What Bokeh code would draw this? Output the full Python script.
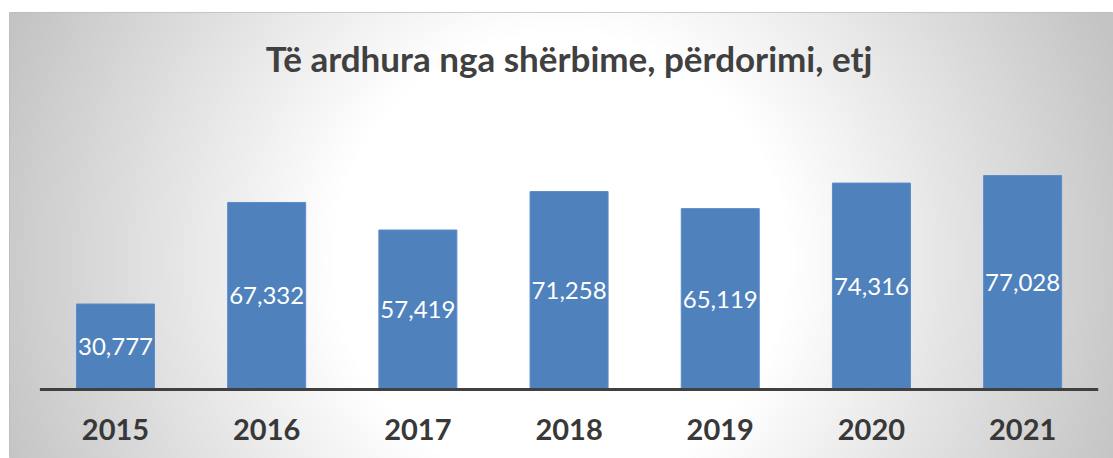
import numpy as np
from bokeh.plotting import figure
from bokeh.models import Range1d, Label, ColumnDataSource
from bokeh.core.properties import value
from bokeh.embed import file_html
from bokeh.resources import INLINE

# ---- data ----
years = ["2015", "2016", "2017", "2018", "2019", "2020", "2021"]
revenues = [30777, 67332, 57419, 71258, 65119, 74316, 77028]
title_text = "Të ardhura nga shërbime, përdorimi, etj"

idx = list(range(len(years)))
labels = ["{:,}".format(v) for v in revenues]

W, H = 1113, 458
x0, x1 = -0.701, 6.601
y0, y1 = -24840, 135720

p = figure(width=W, height=H, output_backend="svg", toolbar_location=None,
           x_range=Range1d(x0, x1), y_range=Range1d(y0, y1),
           min_border_left=9, min_border_top=12, min_border_right=0, min_border_bottom=0)
p.xaxis.visible = False
p.yaxis.visible = False
p.xgrid.visible = False
p.ygrid.visible = False
p.border_fill_color = "white"
p.background_fill_color = "white"
p.outline_line_color = "#bdbdbd"
p.outline_line_width = 1

# radial gradient background (style)
fw, fh = 552, 223
xs = (np.arange(fw) + 0.5) * (1104 / fw) + 9
ys = (np.arange(fh) + 0.5) * (446 / fh) + 12
X, Y = np.meshgrid(xs, ys)
d = np.sqrt((X - 560) ** 2 + (Y - 260) ** 2)
g = 255 - 60 * np.clip((d - 230) / 370, 0, 1)
img = np.zeros((fh, fw), dtype=np.uint32)
view = img.view(dtype=np.uint8).reshape((fh, fw, 4))
gv = np.flipud(g).astype(np.uint8)
view[:, :, 0] = gv
view[:, :, 1] = gv
view[:, :, 2] = gv
view[:, :, 3] = 255
p.image_rgba(image=[img], x=x0, y=y0, dw=x1 - x0, dh=y1 - y0)

src = ColumnDataSource(dict(x=idx, top=revenues, mid=[v / 2 for v in revenues],
                            lab=labels, year=years, zero=[0] * len(idx)))

p.vbar(x="x", top="top", bottom=0, width=0.516, source=src,
       fill_color="#4F81BD", line_color="#5B8DC9", line_width=1)

# category axis line
p.segment(x0=[-0.5], y0=[0], x1=[len(years) - 0.5], y1=[0],
          line_color="#404040", line_width=3)

p.text(x="x", y="mid", text="lab", source=src, text_color="white",
       text_font=value("Lato"), text_font_size="24px",
       text_align="center", text_baseline="middle")

p.text(x="x", y="zero", text="year", source=src, text_color="#383838",
       text_font=value("Lato"), text_font_style="bold", text_font_size="29px",
       text_align="center", text_baseline="middle", y_offset=40)

p.add_layout(Label(x=(len(years) - 1) / 2, y=119520, text=title_text,
                   text_font="Lato", text_font_style="bold", text_font_size="35px",
                   text_color="#404040", text_align="center", text_baseline="middle"))

open("out.html", "w").write(file_html(p, INLINE))
